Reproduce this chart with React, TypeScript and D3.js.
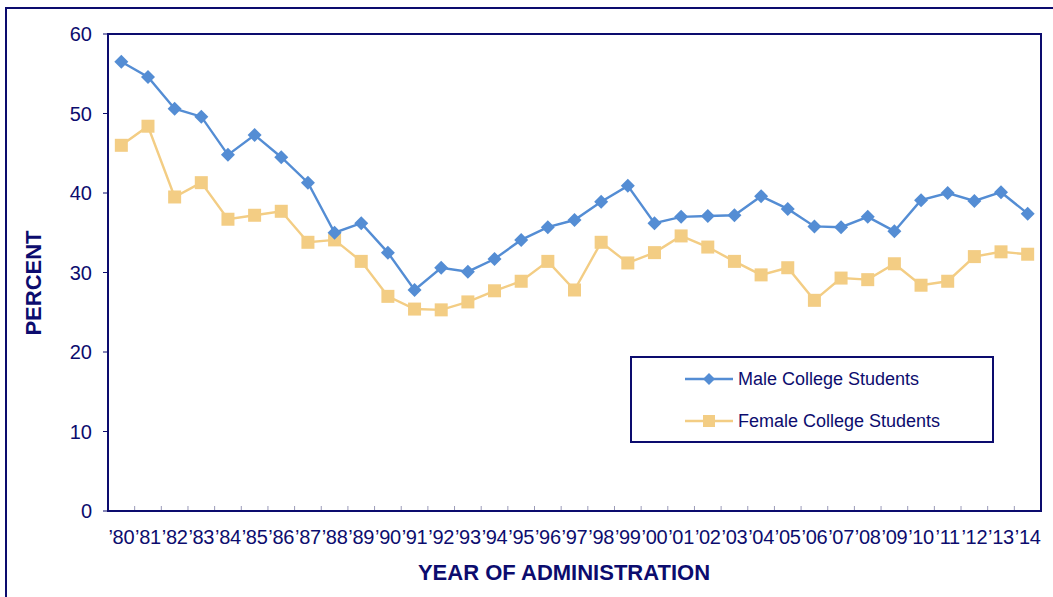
import React from "react";
import * as d3 from "d3";

const years = ["80","81","82","83","84","85","86","87","88","89","90","91","92","93","94","95","96","97","98","99","00","01","02","03","04","05","06","07","08","09","10","11","12","13","14"];
const maleValues = [56.5,54.6,50.6,49.6,44.8,47.3,44.5,41.3,35.0,36.2,32.5,27.8,30.6,30.1,31.7,34.1,35.7,36.6,38.9,40.9,36.2,37.0,37.1,37.2,39.6,38.0,35.8,35.7,37.0,35.2,39.1,40.0,39.0,40.1,37.4];
const femaleValues = [46.0,48.4,39.5,41.3,36.7,37.2,37.7,33.8,34.1,31.4,27.0,25.4,25.3,26.3,27.7,28.9,31.4,27.8,33.8,31.2,32.5,34.6,33.2,31.4,29.7,30.6,26.5,29.3,29.1,31.1,28.4,28.9,32.0,32.6,32.3];
const yTicks = [0,10,20,30,40,50,60];
const seriesNames = ["Male College Students","Female College Students"];

const W = 1053, H = 597;
const L = 108, R = 1041, T = 34, B = 511;
const NAVY = "#0C0C6E";
const MALE = "#548DD4";
const FEMALE = "#F3CD84";
const FONT = "Arial, 'Liberation Sans', sans-serif";

export default function App() {
  const x = d3.scaleBand<string>().domain(years).range([L, R]).paddingInner(0).paddingOuter(0);
  const y = d3.scaleLinear().domain([0, 60]).range([B, T]);
  const cx = (d: string) => (x(d) as number) + x.bandwidth() / 2;
  const line = d3.line<number>().x((_, i) => cx(years[i])).y((v) => y(v));
  const diamond = (px: number, py: number, r = 7) => `M${px},${py - r}L${px + r},${py}L${px},${py + r}L${px - r},${py}Z`;

  return (
    <svg width={W} height={H} style={{ position: "absolute", left: 0, top: 0, background: "#fff", fontFamily: FONT }}>
      <rect x={6} y={8} width={1060} height={620} fill="none" stroke={NAVY} strokeWidth={2} />
      {/* y ticks */}
      {yTicks.map((t) => (
        <g key={t}>
          <line x1={L - 5} x2={L} y1={y(t)} y2={y(t)} stroke={NAVY} strokeWidth={1} />
          <text x={92} y={y(t)} dy="0.36em" textAnchor="end" fontSize={20} fill={NAVY}>{t}</text>
        </g>
      ))}
      {/* x ticks */}
      {years.slice(1).map((yr) => (
        <line key={yr} x1={x(yr)} x2={x(yr)} y1={B} y2={B - 5} stroke="#9a9ab8" strokeWidth={1} />
      ))}
      {years.map((yr) => (
        <text key={yr} x={cx(yr)} y={544} textAnchor="middle" fontSize={20} fill={NAVY} letterSpacing={-0.3}>{"\u2019" + yr}</text>
      ))}
      {/* plot frame */}
      <rect x={L} y={T} width={R - L} height={B - T} fill="none" stroke={NAVY} strokeWidth={2} />
      {/* female */}
      <path d={line(femaleValues) || ""} fill="none" stroke={FEMALE} strokeWidth={2.4} />
      {femaleValues.map((v, i) => (
        <rect key={i} x={cx(years[i]) - 6.5} y={y(v) - 6.5} width={13} height={13} fill={FEMALE} />
      ))}
      {/* male */}
      <path d={line(maleValues) || ""} fill="none" stroke={MALE} strokeWidth={2.4} />
      {maleValues.map((v, i) => (
        <path key={i} d={diamond(cx(years[i]), y(v))} fill={MALE} />
      ))}
      {/* legend */}
      <rect x={631} y={357} width={362} height={85} fill="#fff" stroke={NAVY} strokeWidth={2} />
      <line x1={685} x2={733} y1={379} y2={379} stroke={MALE} strokeWidth={2.4} />
      <path d={diamond(709, 379, 6)} fill={MALE} />
      <text x={738} y={379} dy="0.36em" fontSize={18} fill={NAVY}>{seriesNames[0]}</text>
      <line x1={685} x2={733} y1={421} y2={421} stroke={FEMALE} strokeWidth={2.4} />
      <rect x={703} y={415} width={12} height={12} fill={FEMALE} />
      <text x={738} y={421} dy="0.36em" fontSize={18} fill={NAVY}>{seriesNames[1]}</text>
      {/* axis titles */}
      <text x={564} y={580} textAnchor="middle" fontSize={22} fontWeight="bold" fill={NAVY}>YEAR OF ADMINISTRATION</text>
      <text transform={`translate(41,283) rotate(-90)`} textAnchor="middle" fontSize={22} fontWeight="bold" fill={NAVY}>PERCENT</text>
    </svg>
  );
}
